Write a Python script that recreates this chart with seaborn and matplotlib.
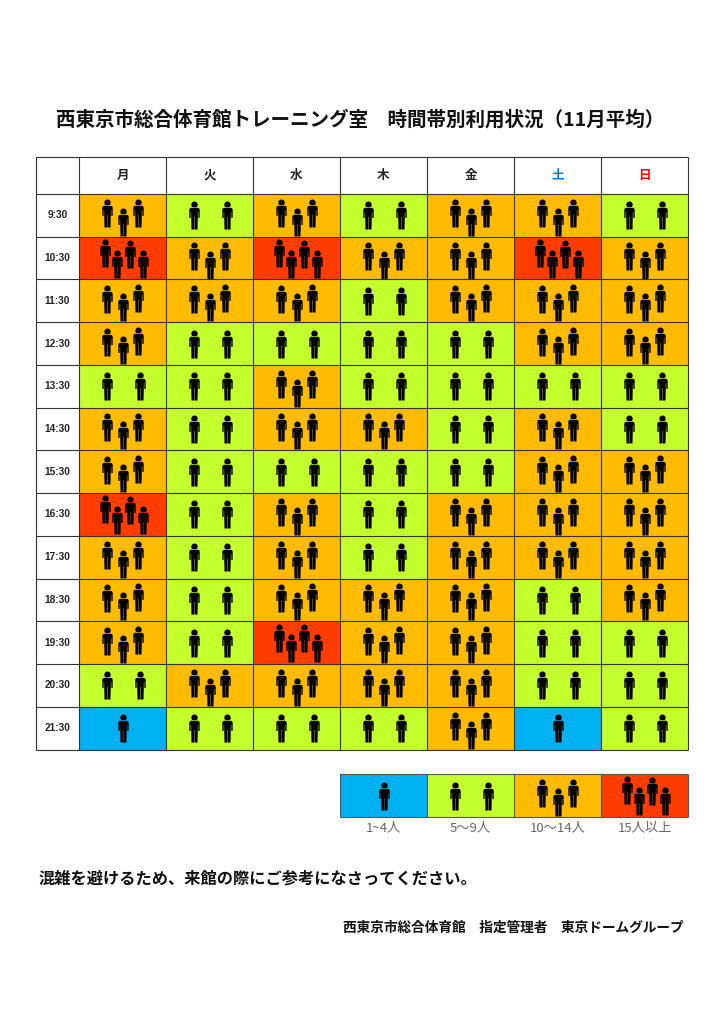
import numpy as np
import pandas as pd
import seaborn as sns
import matplotlib.pyplot as plt
from matplotlib.colors import ListedColormap
from matplotlib.path import Path

# data
days = ['月', '火', '水', '木', '金', '土', '日']
times = ['9:30', '10:30', '11:30', '12:30', '13:30', '14:30', '15:30',
         '16:30', '17:30', '18:30', '19:30', '20:30', '21:30']
levels = [
    [3, 2, 3, 2, 3, 3, 2],
    [4, 3, 4, 3, 3, 4, 3],
    [3, 3, 3, 2, 3, 3, 3],
    [3, 2, 2, 2, 2, 3, 3],
    [2, 2, 3, 2, 2, 2, 2],
    [3, 2, 3, 3, 2, 3, 2],
    [3, 2, 2, 2, 2, 3, 3],
    [4, 2, 3, 2, 3, 3, 3],
    [3, 2, 3, 2, 3, 3, 3],
    [3, 2, 3, 3, 3, 2, 3],
    [3, 2, 4, 3, 3, 2, 2],
    [2, 3, 3, 3, 3, 2, 2],
    [1, 2, 2, 2, 3, 1, 2],
]
legend_levels = [1, 2, 3, 4]
legend_labels = ['1~4人', '5〜9人', '10〜14人', '15人以上']
title = '西東京市総合体育館トレーニング室　時間帯別利用状況（11月平均）'
note = '混雑を避けるため、来館の際にご参考になさってください。'
footer = '西東京市総合体育館　指定管理者　東京ドームグループ'

colors = ['#00B0F0', '#C4FF2E', '#FFBB00', '#FF3D00']
cmap = ListedColormap(colors)

W, H = 724, 1024
CELL_W, CELL_H = 87, 556 / 13

# people position inside a cell, pixels from the cell centre
offsets = {
    1: [(0.5, 0)],
    2: [(-16, 0), (17.5, 0)],
    3: [(-15.5, -2), (0.5, 6.5), (15.5, -2.5)],
    4: [(-17.5, -5), (-5.5, 5.5), (7.5, -4.5), (20.5, 5.5)],
}

# one person, y up, 28 high
head = Path.circle((0, 10.8), 3.2)
body = Path([(-2.8, 7.9), (2.8, 7.9), (4.6, 7.2), (5.2, 5.8), (5.2, -2.4), (3.8, -2.4), (3.8, 3.5), (3.4, 3.5),
             (3.0, -14), (0.2, -14), (0.2, -1.5), (-0.2, -1.5), (-0.2, -14), (-3.0, -14),
             (-3.4, 3.5), (-3.8, 3.5), (-3.8, -2.4), (-5.2, -2.4), (-5.2, 5.8), (-4.6, 7.2), (-2.8, 7.9)], closed=True)
person = Path.make_compound_path(head, body)


def axes_px(fig, left, top, right, bottom):
    return fig.add_axes([left / W, 1 - bottom / H, (right - left) / W, (bottom - top) / H])


def draw_people(ax, grid):
    rows = []
    for r, row in enumerate(grid):
        for c, lev in enumerate(row):
            for dx, dy in offsets[lev]:
                rows.append({'x': c + 0.5 + dx / CELL_W, 'y': r + 0.5 + dy / CELL_H})
    sns.scatterplot(data=pd.DataFrame(rows), x='x', y='y', marker=person, s=(28 * 0.72) ** 2,
                    color='black', linewidth=0, legend=False, ax=ax, zorder=4)
    ax.set_xlabel('')
    ax.set_ylabel('')


sns.set_theme(style='white')
plt.rcParams['font.family'] = ['Noto Sans CJK JP', 'DejaVu Sans']

fig = plt.figure(figsize=(W / 100, H / 100), dpi=100, facecolor='white')

# main table
ax = axes_px(fig, 35.5, 157, 688, 749.5)
sns.heatmap(np.array(levels), cmap=cmap, vmin=0.5, vmax=4.5, cbar=False, ax=ax)
draw_people(ax, levels)
left_col = 43.5 / CELL_W
head_row = 37 / CELL_H
ax.set_xlim(-left_col, 7)
ax.set_ylim(13, -head_row)
ax.set_xticks([])
ax.set_yticks([])
ax.hlines(np.arange(0, 14), -left_col, 7, color='#333333', lw=0.8, zorder=5, clip_on=False)
ax.hlines(-head_row, -left_col, 7, color='#333333', lw=0.8, zorder=5, clip_on=False)
ax.vlines(np.arange(0, 8), -head_row, 13, color='#333333', lw=0.8, zorder=5, clip_on=False)
ax.vlines(-left_col, -head_row, 13, color='#333333', lw=0.8, zorder=5, clip_on=False)
for s in ax.spines.values():
    s.set_visible(False)

day_colors = ['#222222'] * 5 + ['#0070C0', '#FF0000']
for c, (d, col) in enumerate(zip(days, day_colors)):
    ax.text(c + 0.5, -head_row / 2, d, ha='center', va='center', fontsize=9, fontweight='bold', color=col)
for r, t in enumerate(times):
    ax.text(-left_col / 2, r + 0.5, t, ha='center', va='center', fontsize=7.3, fontweight='bold',
            color='#222222', family=['Liberation Sans', 'DejaVu Sans'])

# legend strip
lax = axes_px(fig, 340, 774, 688, 817)
sns.heatmap(np.array([legend_levels]), cmap=cmap, vmin=0.5, vmax=4.5, cbar=False, ax=lax)
draw_people(lax, [legend_levels])
lax.set_xlim(0, 4)
lax.set_ylim(1, 0)
lax.set_yticks([])
lax.set_xticks(np.arange(4) + 0.5)
lax.set_xticklabels(legend_labels, fontsize=9.5, color='#666666', rotation=0)
lax.tick_params(axis='x', length=0, pad=3.5)
lax.vlines(np.arange(5), 0, 1, color='#555555', lw=0.8, zorder=5, clip_on=False)
lax.hlines([0, 1], 0, 4, color='#555555', lw=0.8, zorder=5, clip_on=False)

# texts
fig.text(56 / W, 1 - 120 / H, title, ha='left', va='center', fontsize=14.08, fontweight='bold', color='#111111')
fig.text(39 / W, 1 - 878.5 / H, note, ha='left', va='center', fontsize=11.7, fontweight='bold', color='#111111')
fig.text(684 / W, 1 - 927.5 / H, footer, ha='right', va='center', fontsize=9.85, fontweight='bold', color='#111111')

fig.savefig('out.png', dpi=100)
